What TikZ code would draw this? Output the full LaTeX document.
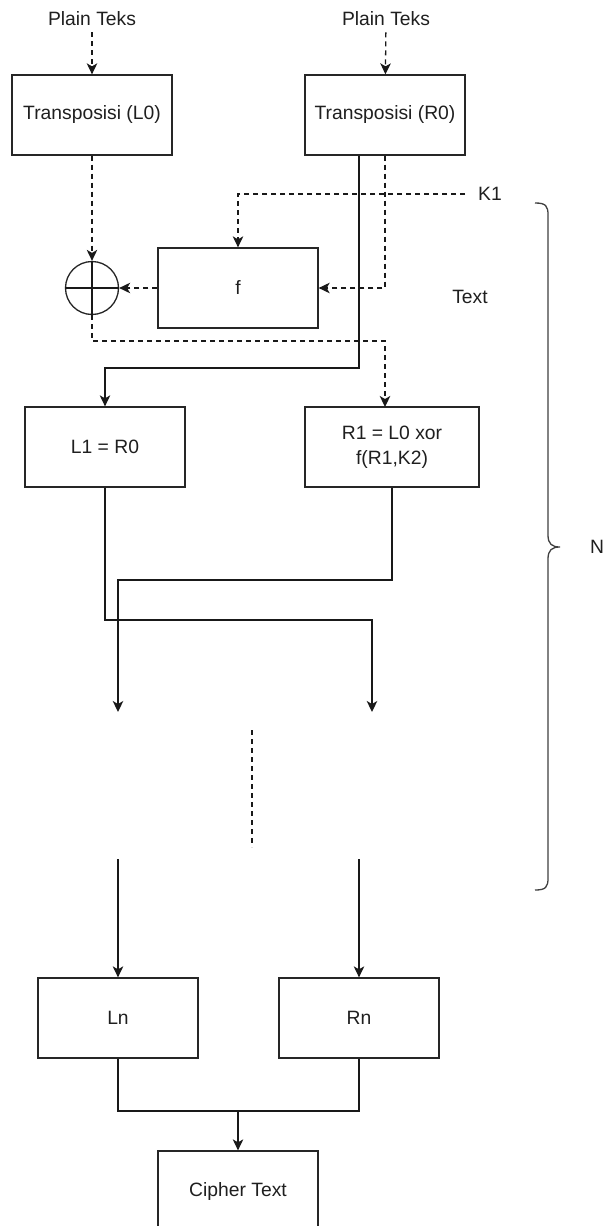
\documentclass[tikz,border=0pt]{standalone}
\usepackage{fontspec}
\setmainfont{Liberation Sans}
\usetikzlibrary{arrows.meta,calc}
\begin{document}
\begin{tikzpicture}[x=1pt,y=-1pt,
  every node/.style={font=\fontsize{19.3}{22}\selectfont, text=black!88},
  blk/.style={draw=black!85, line width=1.3pt, minimum width=160pt, minimum height=80pt, inner sep=0pt, align=center},
  lbl/.style={inner sep=2pt},
  conn/.style={draw=black!90, line width=1.3pt},
  dconn/.style={conn, dash pattern=on 5pt off 4pt},
  arr/.style={-{Stealth[length=11pt,width=10.5pt,inset=3pt]}}
]
\clip (0,0) rectangle (605,1226);
\fill[white] (0,0) rectangle (605,1226);

% texts
\node[lbl] (pt1) at (92,19) {Plain Teks};
\node[lbl] (pt2) at (386,19) {Plain Teks};
\node[lbl, anchor=west, inner sep=0pt] (k1) at (478,194) {K1};
\node[lbl] (txt) at (470,297) {Text};
\node[lbl, anchor=west, inner sep=0pt] (nn) at (590,547) {N};

% boxes
\node[blk] (L0) at (92,115) {Transposisi (L0)};
\node[blk] (R0) at (385,115) {Transposisi (R0)};
\node[blk] (f) at (238,288) {f};
\node[draw=black!85, line width=1.3pt, circle, minimum size=53pt, inner sep=0pt] (xo) at (92,288) {};
\draw[conn] (xo.north) -- (xo.south) (xo.west) -- (xo.east);
\node[blk] (L1) at (105,447) {L1 = R0};
\node[blk, minimum width=174pt] (R1) at (392,447) {R1 = L0 xor\\[3pt]f(R1,K2)};
\node[blk] (Ln) at (118,1018) {Ln};
\node[blk] (Rn) at (359,1018) {Rn};
\node[blk] (ct) at (238,1191) {Cipher Text};

% helper coordinates
\coordinate (r0a) at ($(R0.south)+(-26,0)$);
\coordinate (r1in) at (385,407);
\coordinate (endL) at (118,712);
\coordinate (endR) at (372,712);
\coordinate (dotA) at (252,730);
\coordinate (dotB) at (252,847);
\coordinate (stL) at (118,859);
\coordinate (stR) at (359,859);
\coordinate (k1s) at (465,194);
\coordinate (mrg) at (238,1111);

% dashed connectors
\draw[dconn, arr, shorten <=4pt] (pt1) -- (L0);
\draw[dconn, arr, shorten <=4pt] (pt2) -- (R0);
\draw[dconn, arr] (L0.south) -- (xo.north);
\draw[dconn, arr] (f.west) -- (xo.east);
\draw[dconn, arr] (xo.south) -- (92,341) -| (r1in);
\draw[dconn, arr] (R0.south) |- (f.east);
\draw[dconn, arr] (k1s) -| (f.north);
\draw[dconn] (dotA) -- (dotB);

% solid connectors
\draw[conn, arr] (r0a) -- (359,368) -| (L1.north);
\draw[conn, arr] (L1.south) -- (105,620) -| (endR);
\draw[conn, arr] (R1.south) -- (392,580) -| (endL);
\draw[conn, arr] (stL) -- (Ln.north);
\draw[conn, arr] (stR) -- (Rn.north);
\draw[conn] (Ln.south) |- (mrg) -| (Rn.south);
\draw[conn, arr] (mrg) -- (ct.north);

% brace
\draw[draw=black!75, line width=1.3pt]
  (535,203) .. controls (546,203) and (548,206) .. (548,215) -- (548,535)
  .. controls (548,544) and (552,547) .. (560,547)
  .. controls (552,547) and (548,550) .. (548,559) -- (548,878)
  .. controls (548,887) and (546,890) .. (535,890);
\end{tikzpicture}
\end{document}
